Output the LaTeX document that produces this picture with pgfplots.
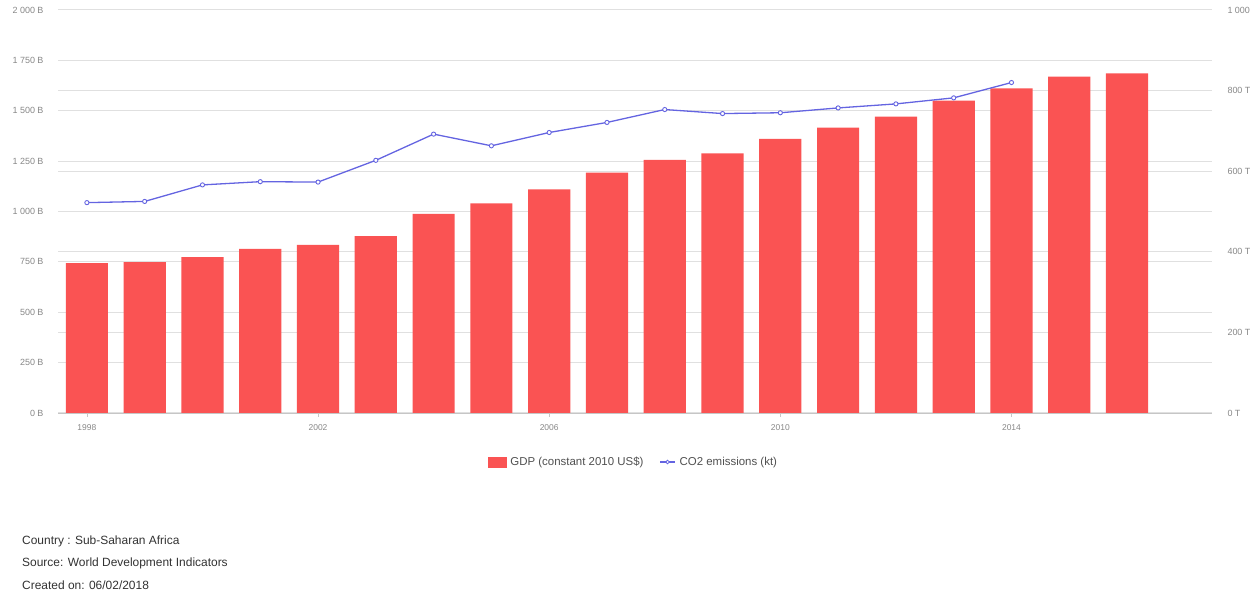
\documentclass[border=0pt]{standalone}
\usepackage{pgfplots}
\usepackage{pgfplotstable}
\pgfplotsset{compat=1.18}
\usepackage{fontspec}
\setmainfont{Liberation Sans}
\definecolor{barred}{RGB}{250,83,83}
\definecolor{co2}{RGB}{100,100,225}
\definecolor{gridc}{RGB}{224,224,224}
\definecolor{ticklab}{RGB}{135,135,135}
\definecolor{legtext}{RGB}{80,80,80}
\definecolor{foot}{RGB}{50,50,50}

\pgfplotstableread{
year gdp
1998 744
1999 749
2000 774
2001 814
2002 834
2003 878
2004 988
2005 1040
2006 1110
2007 1193
2008 1256
2009 1289
2010 1361
2011 1416
2012 1471
2013 1550
2014 1611
2015 1669
2016 1686
}\gdptable

\pgfplotstableread{
year co2
1998 522
1999 525
2000 566
2001 574
2002 573
2003 627
2004 692
2005 663
2006 696
2007 721
2008 753
2009 743
2010 745
2011 757
2012 767
2013 782
2014 820
}\cotable

\begin{document}
\begin{tikzpicture}[x=1bp,y=1bp]
\useasboundingbox (0bp,0bp) rectangle (1250bp,594bp);
\begin{axis}[
  at={(58bp,181bp)}, anchor=south west,
  scale only axis, width=1154bp, height=403bp,
  xmin=1997.5, xmax=2017.47, ymin=0, ymax=2000,
  axis x line*=bottom, axis y line*=left,
  x axis line style={draw=gray!45, line width=0.8bp},
  y axis line style={draw=none},
  ytick={0,250,...,2000},
  yticklabels={0 B,250 B,500 B,750 B,1 000 B,1 250 B,1 500 B,1 750 B,2 000 B},
  extra y ticks={400,800,1200,1600},
  extra y tick labels={},
  extra y tick style={grid=major, major tick length=0pt},
  ymajorgrids, grid style={gridc, line width=1bp},
  ytick style={draw=none},
  yticklabel style={font=\fontsize{9}{10}\selectfont, text=ticklab, xshift=-11bp},
  xtick={1998,2002,2006,2010,2014},
  xticklabels={1998,2002,2006,2010,2014},
  xtick align=outside, major tick length=4bp,
  xtick style={draw=gray!45, line width=0.6bp},
  xticklabel style={font=\fontsize{8.5}{9}\selectfont, text=ticklab, yshift=-4bp},
]
\addplot[ybar, bar width=0.73, fill=barred, draw=none] table[x=year,y=gdp]{\gdptable};
\end{axis}
\begin{axis}[
  at={(58bp,181bp)}, anchor=south west,
  scale only axis, width=1154bp, height=403bp,
  xmin=1997.5, xmax=2017.47, ymin=0, ymax=1000,
  axis x line=none, axis y line*=right,
  y axis line style={draw=none},
  ytick={0,200,...,1000},
  yticklabels={0 T,200 T,400 T,600 T,800 T,1 000 T},
  ytick style={draw=none},
  yticklabel style={font=\fontsize{9}{10}\selectfont, text=ticklab, xshift=12bp},
  legend style={at={(0.4987,-0.1216)}, anchor=center, draw=none, fill=none,
    legend columns=2, font=\fontsize{11.5}{12}\selectfont, text=legtext,
    /tikz/every odd column/.append style={column sep=2bp},
    /tikz/every even column/.append style={column sep=14bp}},
  legend cell align=left,
]
\addlegendimage{legend image code/.code={\fill[barred] (0bp,-5bp) rectangle (18bp,5bp);}}
\addlegendentry{GDP (constant 2010 US\$)}
\addplot[co2, line width=1.3bp, mark=*, mark size=2.1bp, mark options={fill=white, line width=0.9bp},
  legend image code/.code={\draw[co2,line width=1.2bp] (0bp,0bp) -- (15bp,0bp); \draw[co2, fill=white, line width=0.8bp] (7.5bp,0bp) circle (1.8bp);}]
  table[x=year,y=co2]{\cotable};
\addlegendentry{CO2 emissions (kt)}
\end{axis}
\node[anchor=west, font=\fontsize{12}{14}\selectfont, text=foot, inner sep=0pt] at (22bp,53bp) {Country : Sub-Saharan Africa};
\node[anchor=west, font=\fontsize{12}{14}\selectfont, text=foot, inner sep=0pt] at (22bp,31bp) {Source: World Development Indicators};
\node[anchor=west, font=\fontsize{12}{14}\selectfont, text=foot, inner sep=0pt] at (22bp,9bp) {Created on: 06/02/2018};
\end{tikzpicture}
\end{document}
